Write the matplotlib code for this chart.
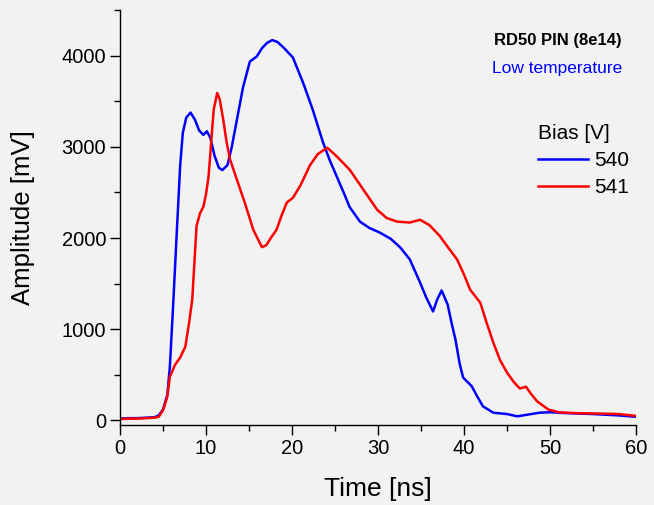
import matplotlib
matplotlib.use("Agg")
import matplotlib.pyplot as plt
from matplotlib.ticker import MultipleLocator

plt.rcParams['font.family'] = ['Liberation Sans', 'DejaVu Sans']

# Transient current pulses, RD50 PIN diode (8e14), low temperature
t_540 = [0, 1, 2, 3, 4, 4.5, 5, 5.5, 5.8, 6.2, 6.6, 7.0, 7.3, 7.7, 8.2, 8.7, 9.2, 9.7,
         10.1, 10.5, 11.0, 11.5, 11.9, 12.5, 13.0, 13.6, 14.3, 15.1, 15.9, 16.5, 17.1,
         17.7, 18.3, 19.0, 20.1, 21.3, 22.4, 23.6, 24.4, 25.2, 26.0, 26.7, 27.9, 29.0,
         30.2, 31.5, 32.6, 33.7, 34.9, 35.6, 36.4, 36.9, 37.4, 38.1, 38.6, 39.0, 39.5,
         39.9, 40.9, 41.5, 42.2, 43.4, 45.0, 46.2, 47.5, 48.8, 50, 52, 55, 58, 60]
a_540 = [20, 25, 25, 30, 35, 55, 120, 280, 590, 1300, 2060, 2800, 3150, 3320, 3375, 3300,
         3180, 3130, 3170, 3100, 2900, 2770, 2745, 2800, 3000, 3300, 3650, 3935, 3990,
         4080, 4140, 4170, 4150, 4090, 3980, 3700, 3410, 3050, 2850, 2675, 2500, 2340,
         2180, 2110, 2060, 1990, 1895, 1765, 1510, 1350, 1195, 1330, 1425, 1270, 1050,
         890, 620, 470, 375, 270, 155, 85, 70, 45, 65, 85, 90, 80, 70, 55, 40]

t_541 = [0, 1, 2, 3, 4, 4.5, 5, 5.5, 5.8, 6.4, 7.0, 7.6, 8.0, 8.4, 8.9, 9.3, 9.7, 10.0,
         10.3, 10.6, 10.9, 11.3, 11.6, 12.0, 12.4, 12.8, 13.7, 14.5, 15.5, 16.5, 17.0,
         17.6, 18.2, 18.8, 19.4, 20.1, 21.0, 22.1, 23.0, 24.1, 25.2, 26.7, 28.3, 29.9,
         31.0, 32.2, 33.7, 34.9, 36.0, 37.2, 38.2, 39.2, 40.0, 40.7, 41.9, 42.6, 43.4,
         44.2, 45.0, 45.8, 46.5, 47.2, 47.8, 48.5, 49.8, 51, 53, 56, 58, 60]
a_541 = [15, 20, 20, 25, 30, 40, 110, 260, 480, 610, 690, 810, 1050, 1325, 2130, 2270,
         2345, 2480, 2675, 3050, 3410, 3590, 3520, 3300, 3050, 2860, 2610, 2390, 2090,
         1900, 1920, 2010, 2090, 2250, 2390, 2440, 2580, 2800, 2920, 2990, 2895, 2750,
         2530, 2310, 2220, 2180, 2170, 2200, 2140, 2020, 1890, 1765, 1600, 1435, 1290,
         1080, 855, 660, 525, 420, 350, 370, 290, 210, 120, 90, 80, 75, 70, 50]

bias_labels = ["540", "541"]
line_colors = ["#0000ff", "#ff0000"]

W, H = 654, 505
bg = "#f2f2f2"
fig = plt.figure(figsize=(W / 100, H / 100), dpi=100, facecolor=bg)
ax = fig.add_axes([120 / W, 1 - 425 / H, 516 / W, 415 / H], facecolor=bg)

ax.plot(t_540, a_540, color=line_colors[0], lw=1.8, label=bias_labels[0])
ax.plot(t_541, a_541, color=line_colors[1], lw=1.8, label=bias_labels[1])

ax.set_xlim(0, 60)
ax.set_ylim(-50, 4500)
ax.xaxis.set_major_locator(MultipleLocator(10))
ax.xaxis.set_minor_locator(MultipleLocator(5))
ax.yaxis.set_major_locator(MultipleLocator(1000))
ax.yaxis.set_minor_locator(MultipleLocator(500))

for s in ("top", "right"):
    ax.spines[s].set_visible(False)
for s in ("left", "bottom"):
    ax.spines[s].set_linewidth(1.0)
    ax.spines[s].set_color("black")

ax.tick_params(which="major", direction="out", length=7, width=1, labelsize=14.5, pad=3)
ax.tick_params(which="minor", direction="out", length=4, width=1)

ax.set_xlabel("Time [ns]", fontsize=19, labelpad=14)
ax.set_ylabel("Amplitude [mV]", fontsize=18.5, labelpad=19)

fig.text(558 / W, 1 - 41 / H, "RD50 PIN (8e14)", fontsize=12, fontweight="bold",
         ha="center", va="center")
fig.text(557 / W, 1 - 69 / H, "Low temperature", color="#0000ff", fontsize=12.5,
         ha="center", va="center")

leg = ax.legend(title="Bias [V]", frameon=False, fontsize=15, title_fontsize=15,
                loc="upper left", bbox_to_anchor=(538 / W, 1 - 124 / H),
                bbox_transform=fig.transFigure, handlelength=2.4, handletextpad=0.3,
                labelspacing=0.38, borderaxespad=0, borderpad=0)
leg._legend_box.align = "left"

fig.savefig("out.png", dpi=100, facecolor=bg)
